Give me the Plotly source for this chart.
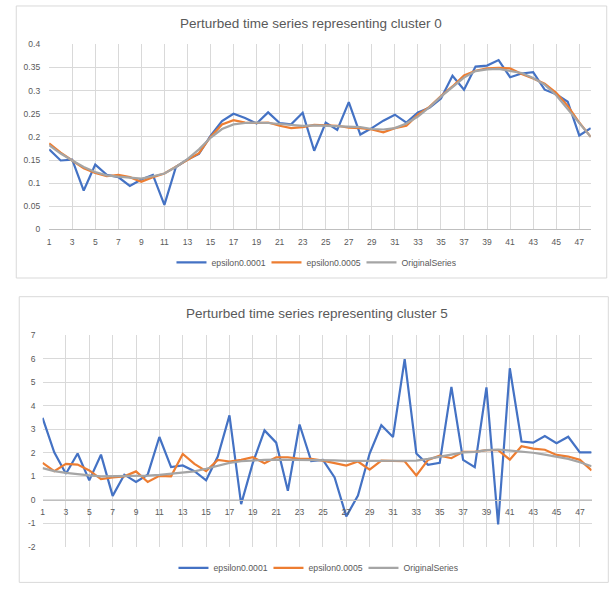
import plotly.graph_objects as go

W, H = 615, 592

x_cat = list(range(1, 49))
x_tick_vals = list(range(1, 49, 2))
x_tick_text = [str(v) for v in x_tick_vals]

top_title = "Perturbed time series representing cluster 0"
bot_title = "Perturbed time series representing cluster 5"
series_names = ["epsilon0.0001", "epsilon0.0005", "OriginalSeries"]
series_colors = ["#4472C4", "#ED7D31", "#A5A5A5"]

top_eps1 = [0.173, 0.149, 0.151, 0.084, 0.140, 0.118, 0.113, 0.094, 0.108, 0.118,
            0.053, 0.135, 0.151, 0.163, 0.202, 0.234, 0.250, 0.241, 0.229, 0.253,
            0.230, 0.227, 0.252, 0.170, 0.231, 0.215, 0.275, 0.205, 0.219, 0.235,
            0.248, 0.231, 0.253, 0.263, 0.283, 0.332, 0.302, 0.352, 0.354, 0.366,
            0.329, 0.337, 0.340, 0.302, 0.292, 0.276, 0.203, 0.219]
top_eps5 = [0.186, 0.166, 0.149, 0.132, 0.122, 0.115, 0.118, 0.113, 0.103, 0.113,
            0.121, 0.136, 0.151, 0.165, 0.200, 0.227, 0.236, 0.231, 0.230, 0.231,
            0.224, 0.219, 0.221, 0.226, 0.225, 0.224, 0.220, 0.219, 0.216, 0.210,
            0.219, 0.224, 0.248, 0.265, 0.288, 0.309, 0.333, 0.343, 0.348, 0.349,
            0.348, 0.336, 0.326, 0.315, 0.295, 0.267, 0.231, 0.200]
top_orig = [0.182, 0.164, 0.149, 0.135, 0.124, 0.117, 0.114, 0.112, 0.110, 0.115,
            0.121, 0.135, 0.152, 0.173, 0.198, 0.217, 0.227, 0.230, 0.231, 0.230,
            0.228, 0.226, 0.224, 0.225, 0.224, 0.224, 0.222, 0.221, 0.217, 0.216,
            0.219, 0.229, 0.244, 0.264, 0.287, 0.308, 0.328, 0.342, 0.346, 0.347,
            0.343, 0.338, 0.327, 0.313, 0.290, 0.260, 0.229, 0.200]

bot_eps1 = [3.48, 2.02, 1.11, 1.97, 0.83, 1.92, 0.17, 1.07, 0.76, 1.07,
            2.67, 1.39, 1.46, 1.22, 0.83, 1.84, 3.59, -0.18, 1.57, 2.95,
            2.43, 0.39, 3.20, 1.65, 1.70, 0.95, -0.70, 0.18, 1.97, 3.17,
            2.67, 5.98, 1.97, 1.49, 1.57, 4.80, 1.70, 1.39, 4.78, -1.04,
            5.59, 2.48, 2.43, 2.71, 2.41, 2.68, 2.02, 2.02]
bot_eps5 = [1.57, 1.22, 1.53, 1.50, 1.25, 0.88, 0.95, 1.00, 1.21, 0.76,
            1.02, 1.00, 1.95, 1.53, 1.22, 1.70, 1.63, 1.70, 1.81, 1.56,
            1.81, 1.81, 1.74, 1.74, 1.67, 1.56, 1.46, 1.63, 1.28, 1.67,
            1.67, 1.64, 1.04, 1.70, 1.88, 1.77, 2.04, 2.04, 2.11, 2.11,
            1.71, 2.28, 2.18, 2.13, 1.91, 1.84, 1.70, 1.25]
bot_orig = [1.35, 1.22, 1.15, 1.08, 1.04, 1.00, 1.00, 1.02, 1.03, 1.03,
            1.06, 1.10, 1.14, 1.21, 1.32, 1.46, 1.57, 1.64, 1.68, 1.70,
            1.71, 1.71, 1.71, 1.71, 1.71, 1.68, 1.66, 1.66, 1.64, 1.64,
            1.64, 1.64, 1.67, 1.74, 1.84, 1.92, 2.02, 2.04, 2.11, 2.14,
            2.09, 2.06, 2.00, 1.92, 1.84, 1.74, 1.60, 1.43]

top_y_ticks = [0, 0.05, 0.1, 0.15, 0.2, 0.25, 0.3, 0.35, 0.4]
top_y_text = ["0", "0.05", "0.1", "0.15", "0.2", "0.25", "0.3", "0.35", "0.4"]
bot_y_ticks = [-2, -1, 0, 1, 2, 3, 4, 5, 6, 7]
bot_y_text = ["-2", "-1", "0", "1", "2", "3", "4", "5", "6", "7"]

FONT = "Liberation Sans"
TXT = "#595959"
GRID = "#d9d9d9"
AXL = "#bfbfbf"

def px(x):
    return x / W

def py(y):
    return 1 - y / H

fig = go.Figure()
for vals, name, col in zip([top_eps1, top_eps5, top_orig], series_names, series_colors):
    fig.add_trace(go.Scatter(x=x_cat, y=vals, mode="lines", name=name,
                             line=dict(color=col, width=2.2),
                             xaxis="x", yaxis="y", legend="legend"))
for vals, name, col in zip([bot_eps1, bot_eps5, bot_orig], series_names, series_colors):
    fig.add_trace(go.Scatter(x=x_cat, y=vals, mode="lines", name=name,
                             line=dict(color=col, width=2.2),
                             xaxis="x2", yaxis="y2", legend="legend2"))

tickfont = dict(family=FONT, size=8.5, color=TXT)
legfont = dict(family=FONT, size=8.7, color=TXT)

fig.update_layout(
    width=W, height=H,
    margin=dict(l=0, r=0, t=0, b=0),
    paper_bgcolor="white", plot_bgcolor="white",
    font=dict(family=FONT, color=TXT),
    xaxis=dict(domain=[px(47.3), px(590.7)], anchor="y", range=[1, 48],
               tickvals=x_tick_vals, ticktext=x_tick_text, showgrid=True,
               gridcolor=GRID, gridwidth=1, showline=True, linecolor=AXL,
               linewidth=1, zeroline=False, ticks="", tickfont=tickfont,
               ticklabelstandoff=4),
    yaxis=dict(domain=[py(228.3), py(40)], anchor="x", range=[0, 0.4],
               tickvals=top_y_ticks, ticktext=top_y_text, showgrid=True,
               gridcolor=GRID, gridwidth=1, zeroline=False, ticks="",
               tickfont=tickfont, ticklabelstandoff=8),
    xaxis2=dict(domain=[px(40.7), px(591.5)], anchor="free",
                position=py(503.4), range=[1, 48],
                tickvals=x_tick_vals, ticktext=x_tick_text, showgrid=True,
                gridcolor=GRID, gridwidth=1, showline=True, linecolor=AXL,
                linewidth=1, zeroline=False, ticks="", tickfont=tickfont,
                ticklabelstandoff=4),
    yaxis2=dict(domain=[py(551.3), py(335.7)], anchor="x2", range=[-2, 7],
                tickvals=bot_y_ticks, ticktext=bot_y_text, showgrid=True,
                gridcolor=GRID, gridwidth=1, zeroline=False, ticks="",
                tickfont=tickfont, ticklabelstandoff=6),
    legend=dict(orientation="h", x=px(313), y=py(261.7), xanchor="center",
                yanchor="middle", font=legfont, bgcolor="rgba(0,0,0,0)",
                itemwidth=30, tracegroupgap=0, entrywidth=50,
                entrywidthmode="pixels"),
    legend2=dict(orientation="h", x=px(315), y=py(572.5), xanchor="center",
                 yanchor="middle", font=legfont, bgcolor="rgba(0,0,0,0)",
                 itemwidth=30, tracegroupgap=0, entrywidth=50,
                 entrywidthmode="pixels"),
    showlegend=True,
    shapes=[
        dict(type="rect", xref="paper", yref="paper", x0=px(14.3), x1=px(606.7),
             y0=py(277.7), y1=py(1), line=dict(color=GRID, width=1),
             fillcolor="rgba(0,0,0,0)", layer="below"),
        dict(type="rect", xref="paper", yref="paper", x0=px(17.3), x1=px(608.3),
             y0=py(587.3), y1=py(296.7), line=dict(color=GRID, width=1),
             fillcolor="rgba(0,0,0,0)", layer="below"),
    ],
    annotations=[
        dict(text=top_title, xref="paper", yref="paper", x=px(310), y=py(19),
             xanchor="center", yanchor="middle", showarrow=False,
             font=dict(family=FONT, size=13.5, color=TXT)),
        dict(text=bot_title, xref="paper", yref="paper", x=px(316), y=py(314),
             xanchor="center", yanchor="middle", showarrow=False,
             font=dict(family=FONT, size=13.5, color=TXT)),
    ],
)

fig.write_html("out.html", config={"displayModeBar": False},
               post_script="document.body.style.margin='0';")
